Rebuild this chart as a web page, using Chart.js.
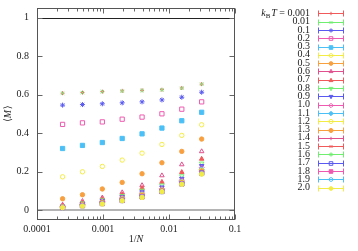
<!DOCTYPE html>
<html><head><meta charset="utf-8">
<script src="https://cdn.jsdelivr.net/npm/chart.js@4/dist/chart.umd.min.js"></script>
<style>html,body{margin:0;padding:0;background:#fff;}canvas{display:block;}</style>
</head><body>
<canvas id="c" width="358" height="251"></canvas>
<script>
// ---- data ----
const sizesN = [4096, 2048, 1024, 512, 256, 128, 64, 32];
const xTickVals = [0.0001, 0.001, 0.01, 0.1];
const xTickLabels = ["0.0001", "0.001", "0.01", "0.1"];
const yTickVals = [0, 0.2, 0.4, 0.6, 0.8, 1];
const yTickLabels = ["0", "0.2", "0.4", "0.6", "0.8", "1"];
const tempLabels = ["0.001","0.01","0.1","0.2","0.3","0.4","0.5","0.6","0.7","0.8","0.9","1.0","1.1","1.2","1.3","1.4","1.5","1.6","1.7","1.8","1.9","2.0"];
const M_0001 = [0.608, 0.611, 0.616, 0.620, 0.623, 0.626, 0.635, 0.655];
const M_001  = [0.608, 0.611, 0.616, 0.619, 0.622, 0.625, 0.634, 0.655];
const M_01   = [0.546, 0.549, 0.553, 0.558, 0.563, 0.573, 0.587, 0.613];
const M_02   = [0.446, 0.454, 0.459, 0.473, 0.484, 0.501, 0.525, 0.563];
const M_03   = [0.321, 0.337, 0.352, 0.373, 0.397, 0.427, 0.465, 0.509];
const M_04   = [0.174, 0.200, 0.228, 0.261, 0.297, 0.342, 0.389, 0.444];
const M_05   = [0.060, 0.081, 0.111, 0.145, 0.190, 0.247, 0.306, 0.370];
const M_06   = [0.029, 0.048, 0.066, 0.093, 0.130, 0.181, 0.238, 0.306];
const M_07   = [0.024, 0.041, 0.059, 0.083, 0.116, 0.147, 0.198, 0.267];
const M_08   = [0.022, 0.037, 0.053, 0.075, 0.103, 0.130, 0.178, 0.244];
const M_09   = [0.020, 0.034, 0.049, 0.069, 0.095, 0.120, 0.165, 0.231];
const M_10   = [0.019, 0.032, 0.046, 0.065, 0.089, 0.112, 0.156, 0.221];
const M_11   = [0.018, 0.030, 0.043, 0.061, 0.084, 0.107, 0.150, 0.213];
const M_12   = [0.017, 0.029, 0.041, 0.058, 0.080, 0.104, 0.146, 0.207];
const M_13   = [0.017, 0.028, 0.040, 0.057, 0.078, 0.102, 0.143, 0.203];
const M_14   = [0.016, 0.027, 0.039, 0.055, 0.076, 0.101, 0.141, 0.200];
const M_15   = [0.016, 0.026, 0.038, 0.054, 0.074, 0.100, 0.140, 0.198];
const M_16   = [0.015, 0.025, 0.037, 0.053, 0.072, 0.099, 0.139, 0.196];
const M_17   = [0.015, 0.025, 0.036, 0.052, 0.071, 0.098, 0.138, 0.194];
const M_18   = [0.015, 0.024, 0.035, 0.051, 0.070, 0.098, 0.137, 0.192];
const M_19   = [0.014, 0.023, 0.034, 0.050, 0.069, 0.097, 0.136, 0.190];
const M_20   = [0.014, 0.022, 0.033, 0.050, 0.067, 0.097, 0.135, 0.188];
const seriesM = [M_0001,M_001,M_01,M_02,M_03,M_04,M_05,M_06,M_07,M_08,M_09,M_10,M_11,M_12,M_13,M_14,M_15,M_16,M_17,M_18,M_19,M_20];

// ---- styles ----
const palette = ['#f05a5a','#70ee70','#5a5af0','#ee5ab0','#4cc0f6','#f4ec46','#f8a040','#e0508c'];
const ptypes = [
  ['cross',false,2.0,0],['crossRot',false,2.4,0],['star',false,2.5,0],
  ['rect',false,3.0,0],['rect',true,3.0,0],
  ['circle',false,2.2,0],['circle',true,2.2,0],
  ['triangle',false,2.6,0],['triangle',true,2.6,0],
  ['triangle',false,2.6,180],['triangle',true,2.6,180],
  ['rectRot',false,2.6,0],['rectRot',true,2.6,0],
  ['circle',false,2.4,0],['circle',true,2.4,0]
];
const xs = sizesN.map(n => 1 / n);
const datasets = seriesM.map((arr, i) => {
  const col = palette[i % 8];
  const pt = ptypes[i % 15];
  return {
    label: tempLabels[i],
    data: arr.map((v, j) => ({x: xs[j], y: v})),
    showLine: false,
    order: 100 - i,
    borderColor: col,
    backgroundColor: pt[1] ? col : 'rgba(255,255,255,0)',
    pointStyle: pt[0],
    pointRadius: pt[2],
    pointRotation: pt[3],
    pointBorderWidth: 1,
    pointHoverRadius: pt[2]
  };
});

const SERIF = '"Liberation Serif", "DejaVu Serif", serif';

const frame = {
  id: 'gpFrame',
  beforeDatasetsDraw(chart) {
    const ctx = chart.ctx, a = chart.chartArea;
    const xS = chart.scales.x, yS = chart.scales.y;
    ctx.save();
    const y0 = Math.round(yS.getPixelForValue(0));
    ctx.strokeStyle = '#b4b4b4'; ctx.lineWidth = 2;
    ctx.beginPath(); ctx.moveTo(a.left, y0); ctx.lineTo(a.right, y0); ctx.stroke();
    const y1 = Math.round(yS.getPixelForValue(1)) + 0.5;
    ctx.strokeStyle = '#222'; ctx.lineWidth = 1;
    ctx.beginPath(); ctx.moveTo(a.left, y1); ctx.lineTo(a.right, y1); ctx.stroke();
    ctx.strokeStyle = '#666'; ctx.lineWidth = 1;
    const L = Math.round(a.left) + 0.5, R = Math.round(a.right) - 0.5;
    const T = Math.round(a.top) + 0.5, B = Math.round(a.bottom) - 0.5;
    ctx.beginPath();
    for (let e = -4; e < -1 + 1e-9; e++) {
      for (let k = 1; k <= 9; k++) {
        const v = k * Math.pow(10, e);
        if (v > 0.1 * 1.0001) break;
        const px = Math.round(xS.getPixelForValue(v)) + 0.5;
        const len = k === 1 ? 5 : 3;
        ctx.moveTo(px, B); ctx.lineTo(px, B - len);
        ctx.moveTo(px, T); ctx.lineTo(px, T + len);
      }
    }
    yTickVals.forEach(v => {
      const py = Math.round(yS.getPixelForValue(v)) + 0.5;
      ctx.moveTo(L, py); ctx.lineTo(L + 5, py);
      ctx.moveTo(R, py); ctx.lineTo(R - 5, py);
    });
    ctx.stroke();
    ctx.strokeStyle = '#555';
    ctx.strokeRect(L, T, R - L, B - T);
    ctx.restore();
  },
  afterDraw(chart) {
    const ctx = chart.ctx, a = chart.chartArea;
    ctx.save();
    ctx.fillStyle = '#222';
    ctx.textBaseline = 'middle';
    ctx.font = '10px ' + SERIF;
    const p1 = '1/', w1 = ctx.measureText(p1).width;
    ctx.font = 'italic 10px ' + SERIF;
    const w2 = ctx.measureText('N').width;
    let sx = (a.left + a.right) / 2 - (w1 + w2) / 2;
    ctx.textAlign = 'left';
    ctx.font = '10px ' + SERIF; ctx.fillText(p1, sx, 239);
    ctx.font = 'italic 10px ' + SERIF; ctx.fillText('N', sx + w1, 239);
    ctx.translate(8, (a.top + a.bottom) / 2);
    ctx.rotate(-Math.PI / 2);
    ctx.font = '10px ' + SERIF;
    const wl = ctx.measureText('\u27E8').width;
    ctx.font = 'italic 10px ' + SERIF;
    const wm = ctx.measureText('M').width;
    let s = -(wl * 2 + wm) / 2;
    ctx.font = '10px ' + SERIF; ctx.fillText('\u27E8', s, 0);
    ctx.font = 'italic 10px ' + SERIF; ctx.fillText('M', s + wl, 0);
    ctx.font = '10px ' + SERIF; ctx.fillText('\u27E9', s + wl + wm + 0.5, 0);
    ctx.restore();

    const LEG_TOP = 13.3, LEG_STEP = 8.3, TXT_R = 310, S0 = 318, S1 = 344;
    chart.data.datasets.forEach((ds, i) => {
      const y = LEG_TOP + i * LEG_STEP;
      ctx.save();
      ctx.fillStyle = '#222';
      ctx.textBaseline = 'middle';
      ctx.textAlign = 'right';
      ctx.font = '10px ' + SERIF;
      ctx.fillText(ds.label, TXT_R, y);
      if (i === 0) {
        const wv = ctx.measureText(ds.label).width;
        const eq = ' = ';
        const we = ctx.measureText(eq).width;
        ctx.font = 'italic 10px ' + SERIF;
        const wk = ctx.measureText('k').width, wT = ctx.measureText('T').width;
        ctx.font = '7px ' + SERIF;
        const wB = ctx.measureText('B').width;
        let x0 = TXT_R - wv - we - wT - wB - wk - 1;
        ctx.textAlign = 'left';
        ctx.font = 'italic 10px ' + SERIF; ctx.fillText('k', x0, y);
        ctx.font = '7px ' + SERIF; ctx.fillText('B', x0 + wk, y + 2.5);
        ctx.font = 'italic 10px ' + SERIF; ctx.fillText('T', x0 + wk + wB + 1, y);
        ctx.font = '10px ' + SERIF; ctx.fillText(eq, x0 + wk + wB + 1 + wT, y);
      }
      const yy = Math.round(y) + 0.5;
      ctx.strokeStyle = ds.borderColor;
      ctx.lineWidth = 1;
      ctx.beginPath();
      ctx.moveTo(S0, yy); ctx.lineTo(S1, yy);
      ctx.moveTo(S0 + 0.5, yy - 3); ctx.lineTo(S0 + 0.5, yy + 3);
      ctx.moveTo(S1 - 0.5, yy - 3); ctx.lineTo(S1 - 0.5, yy + 3);
      ctx.stroke();
      ctx.fillStyle = ds.backgroundColor;
      Chart.helpers.drawPoint(ctx, {
        pointStyle: ds.pointStyle, radius: ds.pointRadius * 0.85,
        rotation: ds.pointRotation || 0, borderWidth: 1
      }, (S0 + S1) / 2, yy);
      ctx.restore();
    });
  }
};

new Chart(document.getElementById('c'), {
  type: 'scatter',
  data: { datasets },
  options: {
    responsive: false,
    animation: false,
    layout: { padding: { top: 8, right: 123, left: 0, bottom: 0 } },
    plugins: { legend: { display: false }, tooltip: { enabled: false } },
    scales: {
      x: {
        type: 'logarithmic', min: 0.0001, max: 0.1,
        grid: { display: false, drawTicks: false },
        border: { display: false },
        afterBuildTicks: s => { s.ticks = xTickVals.map(v => ({ value: v })); },
        afterFit: s => { s.height = 31; s.paddingLeft = 0; s.paddingRight = 0; },
        ticks: {
          autoSkip: false, maxRotation: 0, padding: 3, color: '#222',
          font: { family: SERIF, size: 10 },
          callback: (v) => { const k = xTickVals.findIndex(t => Math.abs(t - v) / t < 1e-6); return k >= 0 ? xTickLabels[k] : ''; }
        }
      },
      y: {
        min: -0.05, max: 1.05,
        grid: { display: false, drawTicks: false },
        border: { display: false },
        afterBuildTicks: s => { s.ticks = yTickVals.map(v => ({ value: v })); },
        afterFit: s => { s.width = 37; s.paddingTop = 0; s.paddingBottom = 0; },
        ticks: {
          autoSkip: false, padding: 8, color: '#222',
          font: { family: SERIF, size: 10 },
          callback: (v) => { const k = yTickVals.findIndex(t => Math.abs(t - v) < 1e-9); return k >= 0 ? yTickLabels[k] : ''; }
        }
      }
    }
  },
  plugins: [frame]
});
</script>
</body></html>
